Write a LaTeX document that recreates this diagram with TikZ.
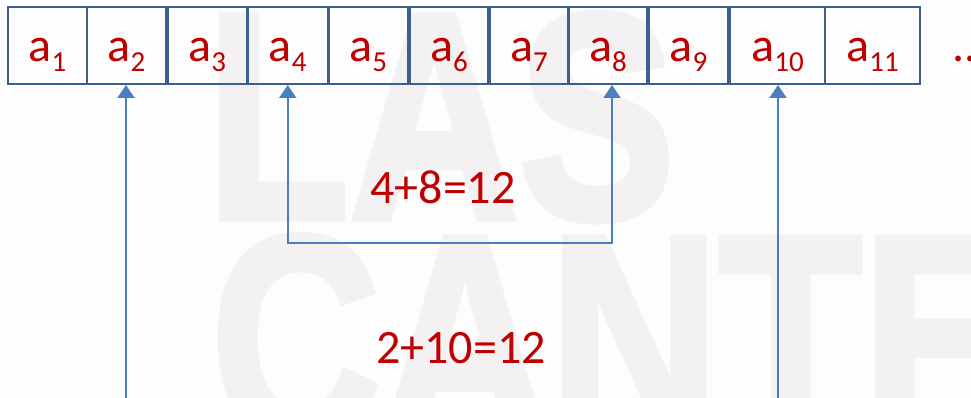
\documentclass[tikz,border=0pt]{standalone}
\usepackage{fontspec}
\setmainfont{Carlito}
\newfontfamily\markfont{Liberation Sans}[BoldFeatures={FakeBold=2.5}]
\usetikzlibrary{arrows.meta}

\definecolor{cellblue}{RGB}{60,95,145}
\definecolor{linkblue}{RGB}{74,126,193}
\definecolor{numred}{RGB}{192,0,0}
\definecolor{markgray}{RGB}{243,241,242}
\definecolor{paper}{RGB}{253,253,253}

\newcommand{\idx}[1]{\raisebox{-10pt}{\fontsize{29}{29}\selectfont #1}}

\tikzset{
  cell/.style={draw=cellblue, line width=2pt, minimum height=77pt, inner sep=0pt,
    text=numred, font=\fontsize{48}{48}\selectfont, text height=40pt, text depth=7pt},
  link/.style={draw=linkblue, line width=2pt},
  sum/.style={text=numred, font=\fontsize{48}{48}\selectfont, anchor=base},
  wmark/.style={text=markgray, font=\markfont\bfseries\fontsize{293}{293}\selectfont,
    inner sep=0pt, xscale=0.8, anchor=base west}
}

\begin{document}
\begin{tikzpicture}[x=1pt, y=-1pt, >={Triangle[length=13pt,width=17pt]}]

  \fill[paper] (0,0) rectangle (971,398);
  \useasboundingbox (0,0) rectangle (971,398);

  % faint letters behind
  \node[wmark] (wtop) at (206,218) {LAS};
  \node[wmark] (wbot) at (211,440) {CANTE};

  \foreach \n/\x/\w in {1/47.5/79, 2/126.5/79, 3/207.25/79.5, 4/287.75/79.5,
    5/368.25/79.5, 6/449/78, 7/529/78, 8/608/78, 9/688.5/79, 10/777.5/95, 11/872.5/95}
  {
  \node[cell, minimum width=\w pt] (b\n) at (\x,45.5) {a\idx{\n}};
  }
  \node[sum, anchor=base west] (dots) at (949,62) {...};

  \coordinate (foot2) at (126,400);
  \coordinate (foot10) at (778,400);
  \coordinate (turn) at (0,243);

  \draw[link,->] (foot2) -- (foot2 |- b2.south);
  \draw[link,->] (foot10) -- (foot10 |- b10.south);
  \draw[link,<->] (b4.south) -- (b4.south |- turn) -| ([xshift=4pt]b8.south);

  \node[sum] (s48) at (443,204) {4+8=12};
  \node[sum] (s210) at (461,363) {2+10=12};

\end{tikzpicture}
\end{document}
